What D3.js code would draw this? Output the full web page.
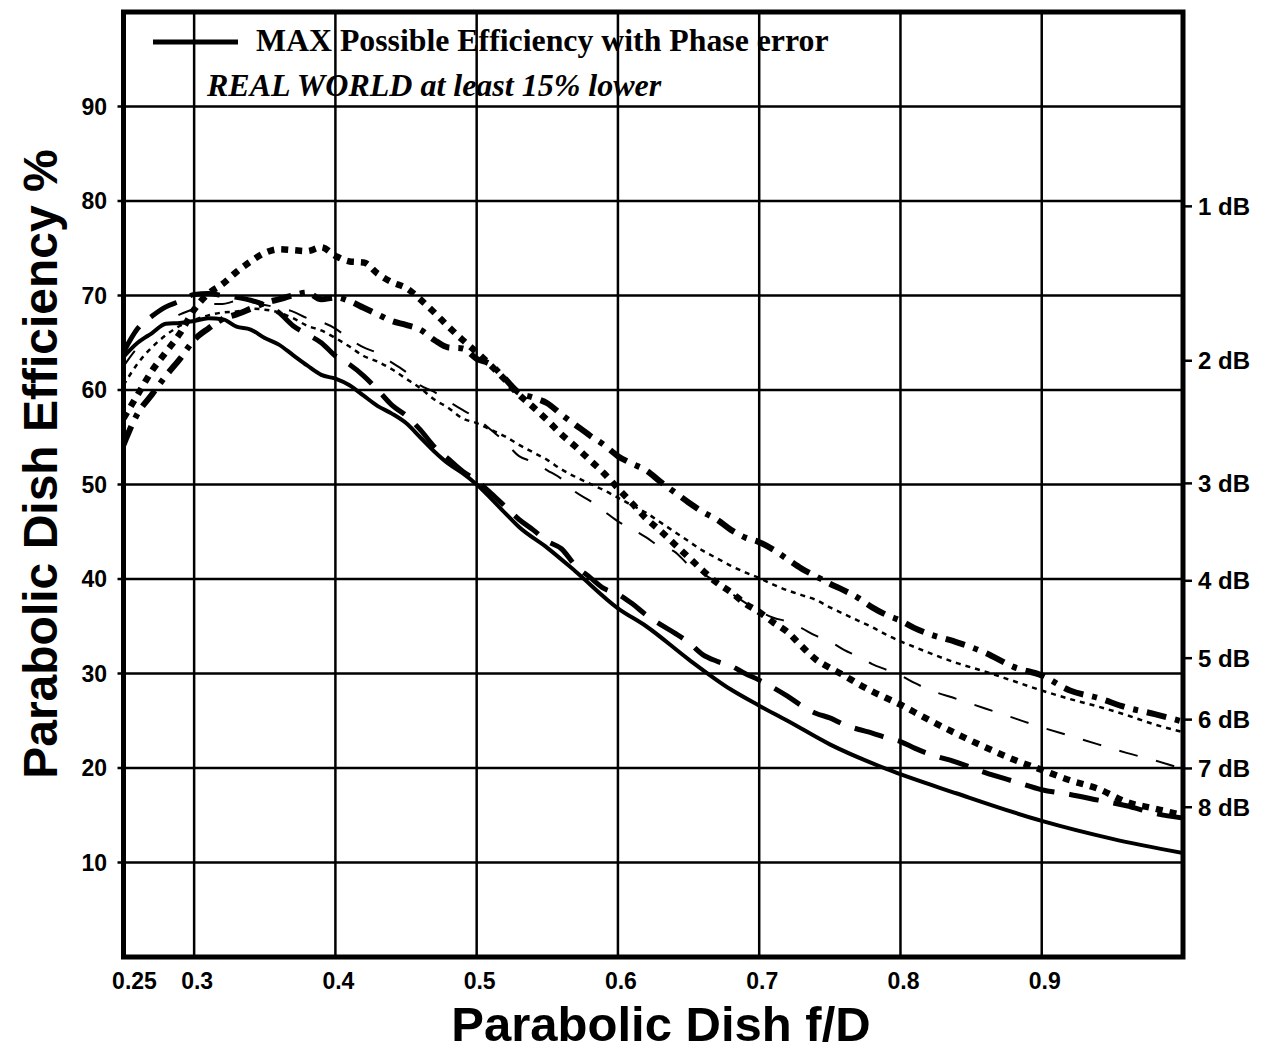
<!DOCTYPE html>
<html>
<head>
<meta charset="utf-8">
<script src="https://cdn.jsdelivr.net/npm/d3@7"></script>
<style>
  html, body { margin: 0; padding: 0; background: #fff; }
  svg { display: block; }
</style>
</head>
<body>
<svg id="chart" width="1263" height="1051"></svg>
<script>
// ---------- DATA ----------
const xTicks = [0.3, 0.4, 0.5, 0.6, 0.7, 0.8, 0.9];
const xTickLabels = ["0.25", "0.3", "0.4", "0.5", "0.6", "0.7", "0.8", "0.9"];
const xLabelValues = [0.25, 0.3, 0.4, 0.5, 0.6, 0.7, 0.8, 0.9];
const yTicks = [10, 20, 30, 40, 50, 60, 70, 80, 90];
const dbTicks = [1, 2, 3, 4, 5, 6, 7, 8];

// f/D sample positions for each series and their efficiencies (%)
const fdDense = [0.25,0.26,0.27,0.28,0.29,0.30,0.31,0.32,0.33,0.34,0.35,0.36,0.37,0.38,0.39,0.40,
  0.41,0.42,0.43,0.44,0.45,0.46,0.47,0.48,0.49,0.50,0.51,0.52,0.53,0.54,0.55,0.56,0.57,0.58,0.59,0.60,
  0.61,0.62,0.63,0.64,0.65,0.66,0.67,0.68,0.69,0.70,0.71,0.72,0.73,0.74,0.75,0.76,0.77,0.78,0.79,0.80,
  0.81,0.82,0.84,0.86,0.88,0.90,0.92,0.94,0.96,0.98,1.00];

const fdMax = [0.25,0.26,0.27,0.28,0.29,0.30,0.31,0.32,0.33,0.34,0.35,0.36,0.37,0.38,0.39,0.40,0.41,0.42,
  0.43,0.44,0.45,0.46,0.47,0.48,0.49,0.50,0.52,0.53,0.55,0.57,0.60,0.62,0.65,0.68,0.70,0.72,0.75,0.79,
  0.84,0.90,0.95,1.00];
const effMax = [63.5,65.0,66.0,67.0,67.1,67.3,67.6,67.5,66.7,66.4,65.5,64.8,63.7,62.6,61.6,61.2,60.5,59.4,
  58.3,57.5,56.5,55.0,53.5,52.2,51.2,50.0,47.0,45.5,43.3,40.8,36.9,35.0,31.5,28.3,26.6,25.0,22.5,19.9,
  17.3,14.4,12.5,11.0];

const effLongDash = [64.0,66.5,67.8,68.8,69.4,70.1,70.2,70.0,69.8,69.5,69.0,68.2,66.8,65.9,65.0,63.6,
  62.7,61.5,60.0,58.4,57.3,55.8,54.0,52.7,51.4,50.4,49.1,47.7,46.3,45.2,44.0,43.2,41.4,40.2,39.0,38.4,
  37.4,36.2,35.2,34.3,33.3,32.0,31.3,30.8,30.0,29.3,28.5,27.6,26.6,25.8,25.3,24.6,24.1,23.7,23.2,22.8,
  22.1,21.5,20.6,19.5,18.6,17.7,17.2,16.6,16.0,15.2,14.7];

const effDotted = [57.0,59.5,62.0,64.0,66.0,68.5,70.2,71.2,72.5,73.6,74.5,74.9,74.8,74.7,75.1,74.2,
  73.6,73.5,72.3,71.4,70.8,69.6,68.2,66.7,65.3,64.0,62.6,61.1,59.5,58.2,56.8,55.3,54.0,52.6,51.2,49.6,
  48.0,46.4,45.1,43.7,42.3,40.9,39.6,38.6,37.4,36.5,35.4,34.4,32.9,31.5,30.6,29.8,28.9,28.1,27.4,26.7,
  25.9,25.1,23.6,22.2,20.9,19.8,18.7,17.8,16.4,15.7,15.0];

const effDashDot = [54.2,57.5,59.5,61.5,63.3,65.3,66.5,67.5,68.0,68.6,69.2,69.6,70.0,70.3,69.6,69.8,
  69.4,68.7,68.0,67.3,66.9,66.4,65.3,64.5,64.4,63.3,62.7,61.2,59.7,59.2,58.6,57.4,56.3,55.2,54.2,53.0,
  52.2,51.5,50.3,49.2,48.1,47.1,46.3,45.2,44.4,43.9,43.1,42.1,41.1,40.3,39.5,38.8,38.0,37.0,36.2,35.6,
  34.8,34.2,33.3,32.2,30.7,29.8,28.2,27.4,26.4,25.7,24.9];

const effThinDash = [62.5,64.5,66.0,67.2,68.0,68.6,69.1,69.1,69.4,69.3,69.0,68.7,68.3,67.6,67.2,66.5,
  65.4,64.5,63.9,62.9,61.9,60.5,59.8,58.8,57.9,57.0,55.8,54.5,53.0,52.4,51.5,50.6,49.2,48.3,47.2,46.1,
  45.3,44.4,43.4,42.9,41.5,40.6,39.6,38.5,37.5,36.6,35.9,35.5,34.8,34.0,33.4,32.5,31.8,31.0,30.4,29.8,
  29.0,28.3,27.3,26.3,25.3,24.3,23.4,22.5,21.6,20.8,19.9];

const effThinDot = [60.5,62.8,64.5,65.8,66.8,67.4,67.9,68.2,68.3,68.6,68.5,68.2,67.6,66.8,66.3,65.5,
  64.6,63.6,63.0,62.2,61.2,60.2,59.0,58.1,57.0,56.5,55.8,55.1,54.2,53.4,52.6,51.6,50.8,50.1,49.4,48.6,
  47.8,47.0,46.0,45.0,44.0,43.0,42.2,41.4,40.7,40.1,39.4,38.8,38.3,37.8,37.0,36.3,35.6,34.9,34.1,33.4,
  32.8,32.2,31.1,30.2,29.2,28.2,27.3,26.5,25.6,24.6,23.8];

const legendLine1 = "MAX Possible Efficiency with Phase error";
const legendLine2 = "REAL WORLD at least 15% lower";
const xTitle = "Parabolic Dish f/D";
const yTitle = "Parabolic Dish Efficiency %";

// ---------- LAYOUT ----------
const pL = 123.5, pR = 1183, pT = 12, pB = 957;
const x = d3.scaleLinear().domain([0.25, 1.0]).range([pL, pR]);
const y = d3.scaleLinear().domain([0, 100]).range([pB, pT]);

const svg = d3.select("#chart");
const sans = "'Liberation Sans', Arial, Helvetica, sans-serif";
const serif = "'Liberation Serif', 'Times New Roman', serif";

// clip
svg.append("defs").append("clipPath").attr("id", "plotclip")
  .append("rect").attr("x", pL).attr("y", pT).attr("width", pR - pL).attr("height", pB - pT);

// grid lines
const grid = svg.append("g");
grid.selectAll("line.vx").data(xTicks).join("line")
  .attr("x1", d => x(d)).attr("x2", d => x(d))
  .attr("y1", pT).attr("y2", pB)
  .attr("stroke", "#000").attr("stroke-width", 2.5);
grid.selectAll("line.hy").data(yTicks).join("line")
  .attr("x1", pL - 6).attr("x2", pR)
  .attr("y1", d => y(d)).attr("y2", d => y(d))
  .attr("stroke", "#000").attr("stroke-width", 2.5);

// series
const series = [
  { fd: fdMax, v: effMax, w: 4, dash: null },
  { fd: fdDense, v: effLongDash, w: 5, dash: "30,15" },
  { fd: fdDense, v: effDotted, w: 6.5, dash: "7,7" },
  { fd: fdDense, v: effDashDot, w: 6, dash: "20,9,5,9" },
  { fd: fdDense, v: effThinDash, w: 2, dash: "19,19" },
  { fd: fdDense, v: effThinDot, w: 2.5, dash: "5,5" }
];
const line = d3.line().x(d => x(d[0])).y(d => y(d[1])).curve(d3.curveMonotoneX);
const lines = svg.append("g").attr("clip-path", "url(#plotclip)");
series.forEach(s => {
  const pts = s.fd.map((f, i) => [f, s.v[i]]);
  lines.append("path").datum(pts)
    .attr("d", line)
    .attr("fill", "none")
    .attr("stroke", "#000")
    .attr("stroke-width", s.w)
    .attr("stroke-dasharray", s.dash)
    .attr("stroke-linejoin", "round");
});

// frame
svg.append("rect").attr("x", pL).attr("y", pT)
  .attr("width", pR - pL).attr("height", pB - pT)
  .attr("fill", "none").attr("stroke", "#000").attr("stroke-width", 5);

// left tick labels
svg.append("g").selectAll("text").data(yTicks).join("text")
  .attr("x", 107).attr("y", d => y(d)).attr("dy", "0.36em")
  .attr("text-anchor", "end")
  .attr("font-family", sans).attr("font-weight", "bold").attr("font-size", 23)
  .text(d => d);

// bottom tick labels
svg.append("g").selectAll("text").data(xLabelValues).join("text")
  .attr("x", (d, i) => i === 0 ? x(d) + 11 : x(d) + 3)
  .attr("y", 989)
  .attr("text-anchor", "middle")
  .attr("font-family", sans).attr("font-weight", "bold").attr("font-size", 23)
  .text((d, i) => xTickLabels[i]);

// right dB axis
const dbY = d => y(100 * Math.pow(10, -d / 10));
const rg = svg.append("g");
rg.selectAll("line").data(dbTicks).join("line")
  .attr("x1", pR).attr("x2", pR + 9)
  .attr("y1", dbY).attr("y2", dbY)
  .attr("stroke", "#000").attr("stroke-width", 2.5);
rg.selectAll("text").data(dbTicks).join("text")
  .attr("x", 1198).attr("y", dbY).attr("dy", "0.36em")
  .attr("font-family", sans).attr("font-weight", "bold").attr("font-size", 24)
  .text(d => d + " dB");

// legend
svg.append("line").attr("x1", 153).attr("x2", 238).attr("y1", 42).attr("y2", 42)
  .attr("stroke", "#000").attr("stroke-width", 5);
svg.append("text").attr("x", 256).attr("y", 51)
  .attr("font-family", serif).attr("font-weight", "bold").attr("font-size", 31.8)
  .text(legendLine1);
svg.append("text").attr("x", 207).attr("y", 96)
  .attr("font-family", serif).attr("font-weight", "bold").attr("font-style", "italic").attr("font-size", 32)
  .text(legendLine2);

// axis titles
svg.append("text").attr("x", 661).attr("y", 1040.5)
  .attr("text-anchor", "middle")
  .attr("font-family", sans).attr("font-weight", "bold").attr("font-size", 49)
  .text(xTitle);
svg.append("text")
  .attr("transform", "translate(57,464) rotate(-90)")
  .attr("text-anchor", "middle")
  .attr("font-family", sans).attr("font-weight", "bold").attr("font-size", 48)
  .text(yTitle);
</script>
</body>
</html>
